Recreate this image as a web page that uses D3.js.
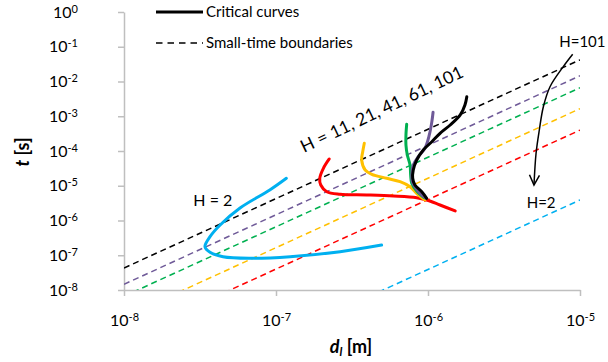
<!DOCTYPE html>
<html lang="en">
<head>
<meta charset="utf-8" />
<title>Critical curves</title>
<style>
  body { margin: 0; background: #fff; }
  svg text { font-family: Lato, "Liberation Sans", sans-serif; fill: #000; }
  .axis path, .axis line { stroke: #bfbfbf; stroke-width: 1.5; }
  .axis text { font-size: 16px; }
</style>
<script src="https://cdnjs.cloudflare.com/ajax/libs/d3/7.8.5/d3.min.js"></script>
</head>
<body>
<script>
// tick exponents
var xTickExp = [-8, -7, -6, -5];
var yTickExp = [0, -1, -2, -3, -4, -5, -6, -7, -8];

// H values and colours (dashed boundary + critical curve share a colour)
var hValues = [2, 11, 21, 41, 61, 101];
var hColors = ["#00b0f0", "#ff0000", "#ffc000", "#00b050", "#6f5a98", "#000000"];

// small-time boundaries: t at d = 1e-8 and d = 1e-5
var boundaryD = [1e-8, 1e-5];
var boundaryT = [
  [3.9e-12, 3.9e-6],   // H=2
  [4.0e-10, 4.0e-4],   // H=11
  [1.65e-9, 1.65e-3],  // H=21
  [6.6e-9, 6.6e-3],    // H=41
  [1.46e-8, 1.46e-2],  // H=61
  [4.3e-8, 4.2e-2]     // H=101
];

// critical curves [d, t]
var curveH2 = [[1.17e-7,1.64e-5],[9.1e-8,7.55e-6],[5.8e-8,2.29e-6],[4.29e-8,7.43e-7],[3.68e-8,3.42e-7],
  [3.41e-8,1.76e-7],[3.68e-8,1.22e-7],[4.48e-8,9.1e-8],[6.75e-8,8.2e-8],[1.24e-7,9.1e-8],[2.64e-7,1.27e-7],[4.95e-7,1.97e-7]];
var curveH11 = [[2.24e-7,5.89e-5],[2.05e-7,3.18e-5],[1.94e-7,1.64e-5],[1.97e-7,1.05e-5],[2.16e-7,6.74e-6],
  [2.64e-7,5.67e-6],[3.95e-7,5.42e-6],[5.92e-7,5.07e-6],[8.43e-7,4.53e-6],[9.8e-7,3.89e-6],[1.2e-6,2.79e-6],[1.51e-6,1.88e-6]];
var curveH21 = [[3.81e-7,1.67e-4],[3.72e-7,9.55e-5],[3.66e-7,5.51e-5],[3.86e-7,2.84e-5],[4.27e-7,2.13e-5],
  [5.35e-7,1.64e-5],[6.55e-7,1.31e-5],[7.62e-7,9.4e-6],[8.63e-7,5.42e-6],[9.55e-7,3.89e-6]];
var curveH41 = [[7.24e-7,5.86e-4],[7.16e-7,2.89e-4],[7.16e-7,1.49e-4],[7.31e-7,7.67e-5],[7.62e-7,3.96e-5],
  [7.69e-7,2.04e-5],[7.82e-7,1.18e-5],[8.43e-7,7.06e-6],[9.42e-7,4.53e-6]];
var curveH61 = [[1.08e-6,1.3e-3],[1.06e-6,6.97e-4],[1.02e-6,2.89e-4],[9.55e-7,1.2e-4],[8.63e-7,6.86e-5],
  [8.0e-7,3.96e-5],[7.82e-7,2.04e-5],[7.89e-7,1.31e-5],[8.85e-7,6.07e-6],[9.7e-7,4.35e-6]];
var curveH101 = [[1.8e-6,3.65e-3],[1.75e-6,2.11e-3],[1.63e-6,1.09e-3],[1.4e-6,5.6e-4],[1.2e-6,3.23e-4],
  [1.06e-6,1.85e-4],[9.31e-7,1.07e-4],[8.43e-7,5.51e-5],[8.0e-7,2.84e-5],[7.93e-7,1.64e-5],[8.2e-7,1.05e-5],
  [9.1e-7,6.74e-6],[9.8e-7,4.35e-6]];
var curves = [curveH2, curveH11, curveH21, curveH41, curveH61, curveH101];

// arrow from H=101 down to H=2
var arrowPath = [[8.95e-6,6.07e-2],[7.76e-6,2.67e-2],[6.35e-6,7.08e-3],[5.74e-6,1.88e-3],
  [5.4e-6,4.02e-4],[5.14e-6,8.59e-5],[4.98e-6,1.05e-5]];

// annotations [d, t, text, angle, font size]
var notes = [
  [2.86e-8, 2.61e-6, "H = 2", 0, 16],
  [1.53e-7, 8.75e-5, "H = 11, 21, 41, 61, 101", -25.5, 17.5],
  [7.3e-6, 1.0e-1, "H=101", 0, 15],
  [4.46e-6, 2.25e-6, "H=2", 0, 15]
];

var width = 608, height = 362;

var x = d3.scaleLog().domain([1e-8, 1e-5]).range([124, 580]);
var y = d3.scaleLog().domain([1e-8, 1]).range([290, 12]);

var svg = d3.select('body').append('svg')
  .attr('width', width)
  .attr('height', height);

var defs = svg.append('defs');
defs.append('clipPath').attr('id', 'plot')
  .append('rect')
  .attr('x', x.range()[0]).attr('y', y.range()[1])
  .attr('width', x.range()[1] - x.range()[0])
  .attr('height', y.range()[0] - y.range()[1]);

// open arrowhead
defs.append('marker')
  .attr('id', 'arrow')
  .attr('markerUnits', 'userSpaceOnUse')
  .attr('viewBox', '-12 -6 14 12')
  .attr('markerWidth', 14).attr('markerHeight', 12)
  .attr('refX', 0).attr('refY', 0)
  .attr('orient', 'auto')
  .append('path')
  .attr('d', 'M-10,-5 L0,0 L-10,5')
  .attr('fill', 'none').attr('stroke', '#000').attr('stroke-width', 1.5);

// superscript labels "10^e"
function supLabel(sel) {
  sel.each(function(d) {
    var t = d3.select(this);
    var e = Math.round(Math.log10(d));
    t.text(null);
    t.append('tspan').text('10');
    t.append('tspan').attr('dy', '-0.45em').attr('font-size', '11px').text(e);
  });
}

var xAxis = svg.append('g').attr('class', 'axis')
  .attr('transform', 'translate(0,' + y.range()[0] + ')')
  .call(d3.axisBottom(x)
    .tickValues(xTickExp.map(function(e) { return Math.pow(10, e); }))
    .tickSizeInner(6).tickSizeOuter(0).tickPadding(19));
xAxis.selectAll('text').call(supLabel);

var yAxis = svg.append('g').attr('class', 'axis')
  .attr('transform', 'translate(' + x.range()[0] + ',0)')
  .call(d3.axisLeft(y)
    .tickValues(yTickExp.map(function(e) { return Math.pow(10, e); }))
    .tickSizeInner(6).tickSizeOuter(0).tickPadding(40));
yAxis.selectAll('text').call(supLabel);

var line = d3.line()
  .x(function(d) { return x(d[0]); })
  .y(function(d) { return y(d[1]); });

var plot = svg.append('g').attr('clip-path', 'url(#plot)');

// dashed boundaries
plot.selectAll('.bound')
  .data(boundaryT)
  .enter().append('path')
  .attr('class', 'bound')
  .attr('d', function(tv) { return line([[boundaryD[0], tv[0]], [boundaryD[1], tv[1]]]); })
  .attr('fill', 'none')
  .attr('stroke', function(d, i) { return hColors[i]; })
  .attr('stroke-width', 1.5)
  .attr('stroke-dasharray', '6,4');

// critical curves
var smooth = d3.line()
  .x(function(d) { return x(d[0]); })
  .y(function(d) { return y(d[1]); })
  .curve(d3.curveCatmullRom.alpha(0.5));

svg.selectAll('.crit')
  .data(curves)
  .enter().append('path')
  .attr('class', 'crit')
  .attr('d', smooth)
  .attr('fill', 'none')
  .attr('stroke', function(d, i) { return hColors[i]; })
  .attr('stroke-width', 3)
  .attr('stroke-linecap', 'round')
  .attr('stroke-linejoin', 'round');

// arrow
svg.append('path')
  .attr('d', smooth(arrowPath))
  .attr('fill', 'none')
  .attr('stroke', '#000')
  .attr('stroke-width', 1.5)
  .attr('marker-end', 'url(#arrow)');

// annotations
svg.selectAll('.note')
  .data(notes)
  .enter().append('text')
  .attr('class', 'note')
  .attr('transform', function(d) {
    return 'translate(' + x(d[0]) + ',' + y(d[1]) + ') rotate(' + d[3] + ')';
  })
  .attr('font-size', function(d) { return d[4] + 'px'; })
  .text(function(d) { return d[2]; });

// legend
var legend = svg.append('g');
legend.append('line')
  .attr('x1', 156).attr('x2', 203).attr('y1', 12).attr('y2', 12)
  .attr('stroke', '#000').attr('stroke-width', 3);
legend.append('line')
  .attr('x1', 156).attr('x2', 203).attr('y1', 43).attr('y2', 43)
  .attr('stroke', '#000').attr('stroke-width', 1.5).attr('stroke-dasharray', '6.5,5');
legend.append('text').attr('x', 206).attr('y', 17).attr('font-size', '15px').text('Critical curves');
legend.append('text').attr('x', 206).attr('y', 48).attr('font-size', '15px').text('Small-time boundaries');

// axis titles
var xt = svg.append('text')
  .attr('x', 351).attr('y', 353)
  .attr('text-anchor', 'middle')
  .attr('font-size', '18px')
  .attr('font-weight', 'bold');
xt.append('tspan').attr('font-style', 'italic').text('d');
xt.append('tspan').attr('font-style', 'italic').attr('font-size', '12px').attr('dy', '3').text('l');
xt.append('tspan').attr('dy', '-3').text(' [m]');

var yt = svg.append('text')
  .attr('transform', 'translate(29,152) rotate(-90)')
  .attr('text-anchor', 'middle')
  .attr('font-size', '18px')
  .attr('font-weight', 'bold');
yt.append('tspan').attr('font-style', 'italic').text('t');
yt.append('tspan').text(' [s]');
</script>
</body>
</html>
